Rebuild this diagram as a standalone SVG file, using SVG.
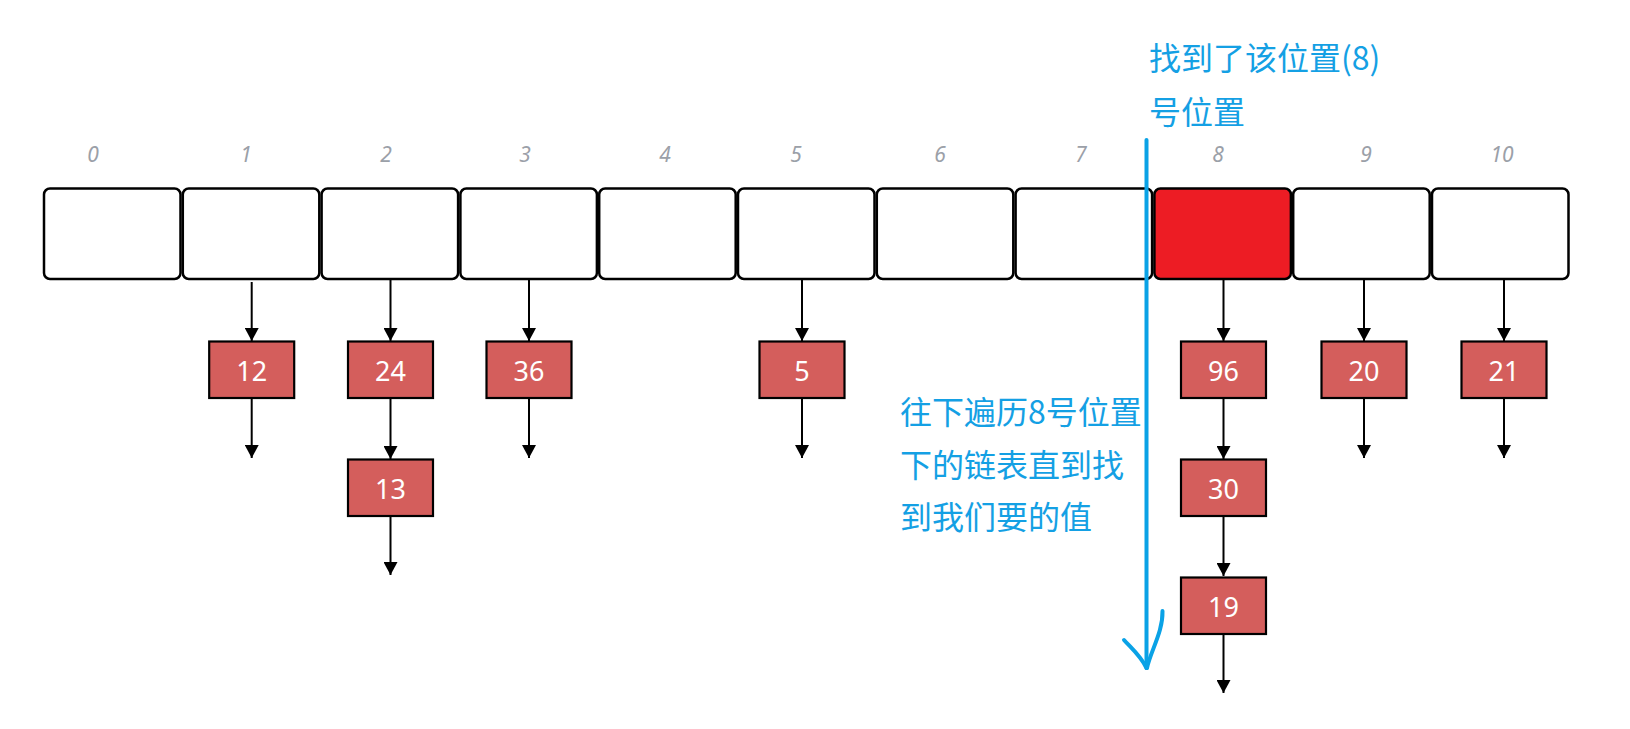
<svg xmlns="http://www.w3.org/2000/svg" width="1630" height="729" viewBox="0 0 1630 729">
<style>
.cell{fill:#ffffff;stroke:#000000;stroke-width:2.5}
.hit{fill:#ed1c24;stroke:#000000;stroke-width:2.5}
.idx{font-family:"Noto Sans","Open Sans",sans-serif;font-style:italic;font-size:21px;fill:#9ba0a8;text-anchor:middle}
.node rect{fill:#d45e5c;stroke:#000000;stroke-width:2.2}
.node text{font-family:"Noto Sans","Open Sans",sans-serif;font-size:27px;fill:#ffffff;text-anchor:middle}
.conn line{stroke:#000000;stroke-width:2}
.note{font-family:"Noto Sans CJK SC","Noto Sans",sans-serif;font-size:32px;fill:#14a0e4}
.blue{stroke:#0aa2e6;stroke-width:4;fill:none;stroke-linecap:round;stroke-linejoin:round}
</style>
<defs>
<marker id="ah" markerUnits="userSpaceOnUse" markerWidth="13" markerHeight="14" viewBox="0 0 13 14" refX="13" refY="7" orient="auto">
<path d="M0,0 L13,7 L0,14 z" fill="#000000"/>
</marker>
</defs>
<rect width="1630" height="729" fill="#ffffff"/>

<g id="labels">
<text class="idx" x="93" y="162">0</text>
<text class="idx" x="246" y="162">1</text>
<text class="idx" x="386" y="162">2</text>
<text class="idx" x="525" y="162">3</text>
<text class="idx" x="665" y="162">4</text>
<text class="idx" x="796" y="162">5</text>
<text class="idx" x="940" y="162">6</text>
<text class="idx" x="1081" y="162">7</text>
<text class="idx" x="1218" y="162">8</text>
<text class="idx" x="1366" y="162">9</text>
<text class="idx" x="1502" y="162">10</text>
</g>

<g id="array">
<g id="cell0"><rect class="cell" x="44" y="188.5" width="136.5" height="90.5" rx="6"/></g>
<g id="cell1"><rect class="cell" x="182.8" y="188.5" width="136.5" height="90.5" rx="6"/></g>
<g id="cell2"><rect class="cell" x="321.6" y="188.5" width="136.5" height="90.5" rx="6"/></g>
<g id="cell3"><rect class="cell" x="460.4" y="188.5" width="136.5" height="90.5" rx="6"/></g>
<g id="cell4"><rect class="cell" x="599.2" y="188.5" width="136.5" height="90.5" rx="6"/></g>
<g id="cell5"><rect class="cell" x="738" y="188.5" width="136.5" height="90.5" rx="6"/></g>
<g id="cell6"><rect class="cell" x="876.8" y="188.5" width="136.5" height="90.5" rx="6"/></g>
<g id="cell7"><rect class="cell" x="1015.6" y="188.5" width="136.5" height="90.5" rx="6"/></g>
<g id="cell8"><rect class="hit" x="1154.4" y="188.5" width="136.5" height="90.5" rx="6"/></g>
<g id="cell9"><rect class="cell" x="1293.2" y="188.5" width="136.5" height="90.5" rx="6"/></g>
<g id="cell10"><rect class="cell" x="1432" y="188.5" width="136.5" height="90.5" rx="6"/></g>
</g>

<g id="connectors" class="conn">
<line x1="251.7" y1="282" x2="251.7" y2="341" marker-end="url(#ah)"/>
<line x1="251.7" y1="398" x2="251.7" y2="458" marker-end="url(#ah)"/>
<line x1="390.5" y1="280" x2="390.5" y2="341" marker-end="url(#ah)"/>
<line x1="390.5" y1="398" x2="390.5" y2="459" marker-end="url(#ah)"/>
<line x1="390.5" y1="516" x2="390.5" y2="575" marker-end="url(#ah)"/>
<line x1="529" y1="280" x2="529" y2="341" marker-end="url(#ah)"/>
<line x1="529" y1="398" x2="529" y2="458" marker-end="url(#ah)"/>
<line x1="802" y1="280" x2="802" y2="341" marker-end="url(#ah)"/>
<line x1="802" y1="398" x2="802" y2="458" marker-end="url(#ah)"/>
<line x1="1223.5" y1="280" x2="1223.5" y2="341" marker-end="url(#ah)"/>
<line x1="1223.5" y1="398" x2="1223.5" y2="459" marker-end="url(#ah)"/>
<line x1="1223.5" y1="516" x2="1223.5" y2="576" marker-end="url(#ah)"/>
<line x1="1223.5" y1="634" x2="1223.5" y2="693" marker-end="url(#ah)"/>
<line x1="1364" y1="280" x2="1364" y2="341" marker-end="url(#ah)"/>
<line x1="1364" y1="398" x2="1364" y2="458" marker-end="url(#ah)"/>
<line x1="1504" y1="280" x2="1504" y2="341" marker-end="url(#ah)"/>
<line x1="1504" y1="398" x2="1504" y2="458" marker-end="url(#ah)"/>
</g>

<g id="n12" class="node"><rect x="209.2" y="341.5" width="85" height="56.5"/><text x="251.7" y="381">12</text></g>
<g id="n24" class="node"><rect x="348" y="341.5" width="85" height="56.5"/><text x="390.5" y="381">24</text></g>
<g id="n13" class="node"><rect x="348" y="459.5" width="85" height="56.5"/><text x="390.5" y="499">13</text></g>
<g id="n36" class="node"><rect x="486.5" y="341.5" width="85" height="56.5"/><text x="529" y="381">36</text></g>
<g id="n5" class="node"><rect x="759.5" y="341.5" width="85" height="56.5"/><text x="802" y="381">5</text></g>
<g id="n96" class="node"><rect x="1181" y="341.5" width="85" height="56.5"/><text x="1223.5" y="381">96</text></g>
<g id="n30" class="node"><rect x="1181" y="459.5" width="85" height="56.5"/><text x="1223.5" y="499">30</text></g>
<g id="n19" class="node"><rect x="1181" y="577.5" width="85" height="56.5"/><text x="1223.5" y="617">19</text></g>
<g id="n20" class="node"><rect x="1321.5" y="341.5" width="85" height="56.5"/><text x="1364" y="381">20</text></g>
<g id="n21" class="node"><rect x="1461.5" y="341.5" width="85" height="56.5"/><text x="1504" y="381">21</text></g>

<g id="traverse">
<path class="blue" d="M1146.5,140 L1146.5,668"/>
<path class="blue" d="M1124,640 C1131,648 1140,655 1146.5,668"/>
<path class="blue" d="M1162.5,611 C1163,632 1151,650 1147,668"/>
</g>

<g id="note-found">
<text class="note" x="1149" y="70">找到了该位置(8)</text>
<text class="note" x="1149" y="124">号位置</text>
</g>
<g id="note-walk">
<text class="note" x="900" y="424">往下遍历8号位置</text>
<text class="note" x="900" y="477">下的链表直到找</text>
<text class="note" x="900" y="529">到我们要的值</text>
</g>
</svg>
